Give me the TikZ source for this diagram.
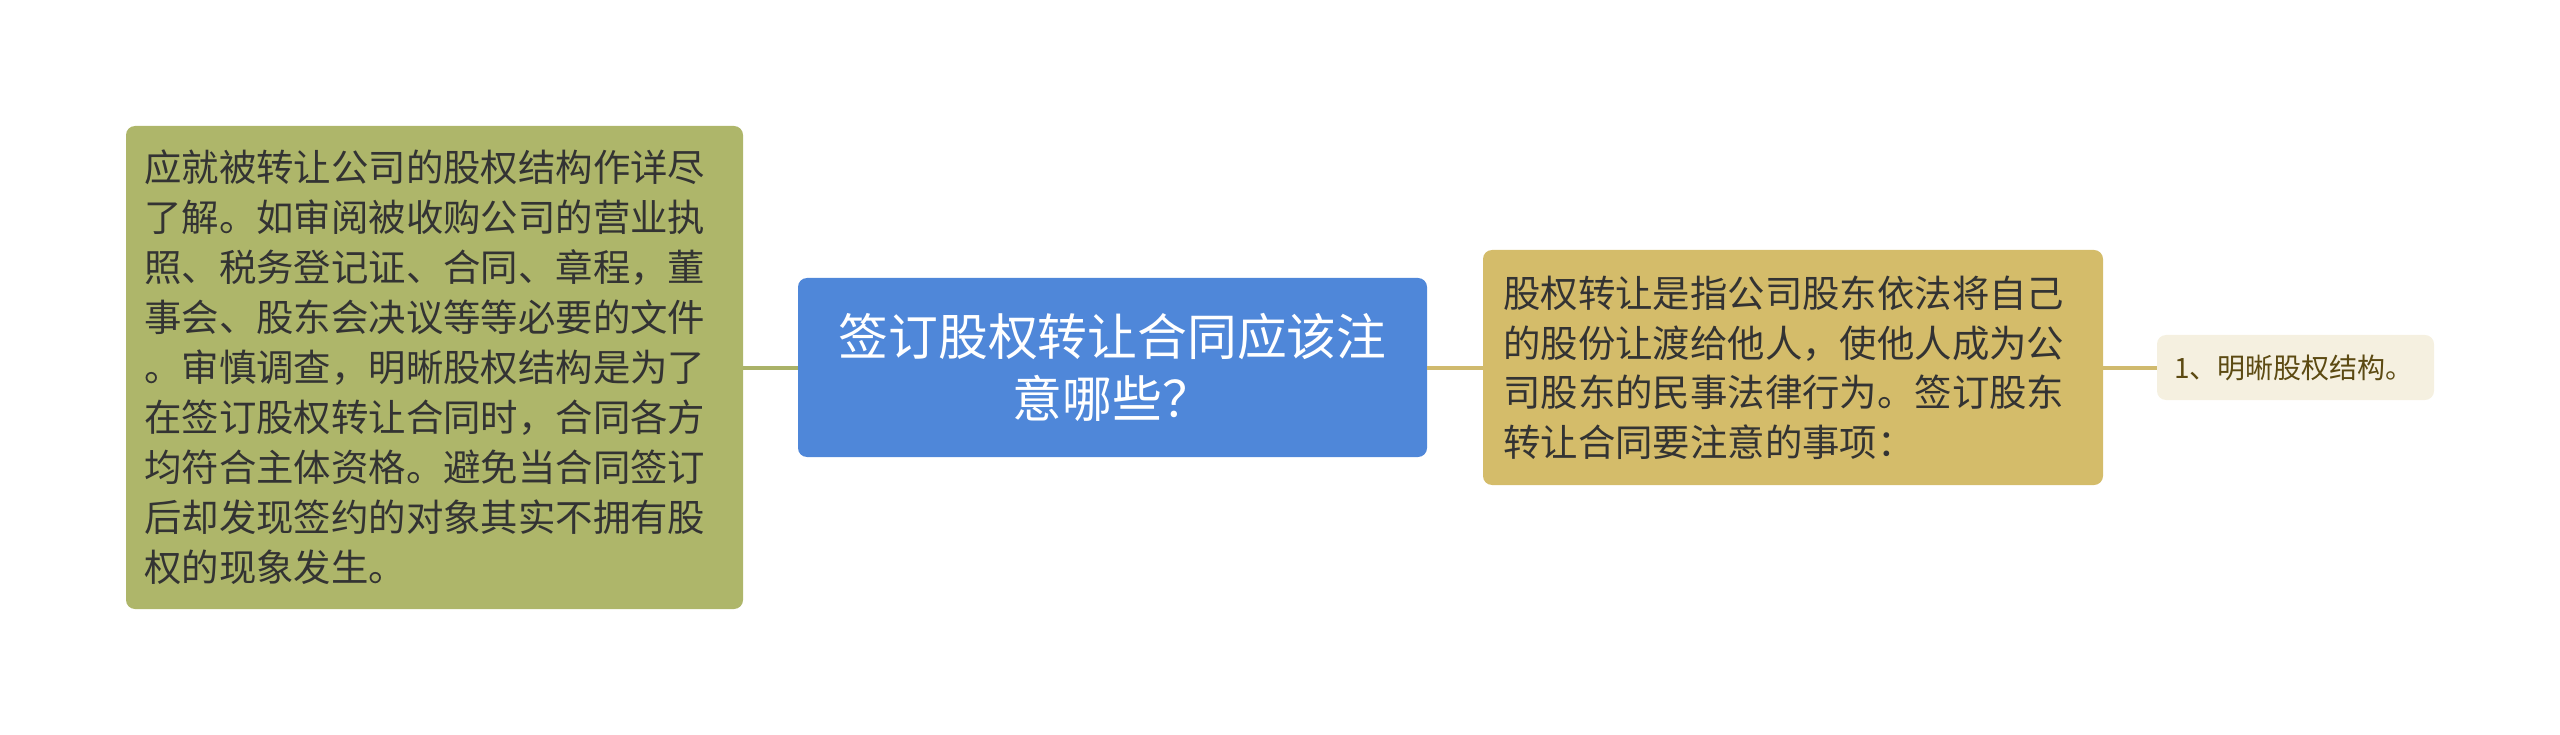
\documentclass[tikz,border=0pt]{standalone}
\usepackage{fontspec}
\setmainfont{Noto Sans CJK SC}
\definecolor{leftbg}{RGB}{174,182,106}
\definecolor{centerbg}{RGB}{79,135,217}
\definecolor{rightbg}{RGB}{212,188,106}
\definecolor{smallbg}{RGB}{245,240,224}
\definecolor{smalltxt}{RGB}{92,74,18}
\definecolor{bodytxt}{RGB}{51,51,51}
\definecolor{lineL}{RGB}{170,178,104}
\definecolor{lineR}{RGB}{208,186,110}
\tikzset{
  box/.style={rounded corners=9pt, inner sep=0pt, outer sep=0pt},
  conn/.style={line width=4pt},
}
\begin{document}
\begin{tikzpicture}[x=1pt,y=-1pt]
\useasboundingbox (0,0) rectangle (2560,735);
% boxes
\node[box, fill=leftbg, minimum width=617pt, minimum height=483pt] (L) at (434.5,367.5) {};
\node[box, fill=centerbg, minimum width=629pt, minimum height=179pt] (C) at (1112.5,367.5) {};
\node[box, fill=rightbg, minimum width=620pt, minimum height=235pt] (R) at (1793,367.5) {};
\node[box, fill=smallbg, minimum width=277pt, minimum height=65pt] (S) at (2295.5,367.5) {};
% connectors
\draw[conn, lineL] (L.east) -- (C.west);
\draw[conn, lineR] (C.east) -- (R.west);
\draw[conn, lineR] (R.east) -- (S.west);
% texts
\node[anchor=west, align=left, text=bodytxt, font=\fontsize{37.4}{50}\selectfont, inner sep=0pt] (Lt) at ([xshift=18pt]L.west)
{应就被转让公司的股权结构作详尽\\了解。如审阅被收购公司的营业执\\照、税务登记证、合同、章程，董\\事会、股东会决议等等必要的文件\\。审慎调查，明晰股权结构是为了\\在签订股权转让合同时，合同各方\\均符合主体资格。避免当合同签订\\后却发现签约的对象其实不拥有股\\权的现象发生。};
\node[align=center, text=white, font=\fontsize{49.8}{62}\selectfont, inner sep=0pt] (Ct) at (C.center)
{签订股权转让合同应该注\\意哪些？};
\node[anchor=west, align=left, text=bodytxt, font=\fontsize{37.4}{49.5}\selectfont, inner sep=0pt] (Rt) at ([xshift=20pt]R.west)
{股权转让是指公司股东依法将自己\\的股份让渡给他人，使他人成为公\\司股东的民事法律行为。签订股东\\转让合同要注意的事项：};
\node[anchor=west, text=smalltxt, font=\fontsize{28}{34}\selectfont, inner sep=0pt] (St) at ([xshift=17pt]S.west)
{1、明晰股权结构。};
\end{tikzpicture}
\end{document}
